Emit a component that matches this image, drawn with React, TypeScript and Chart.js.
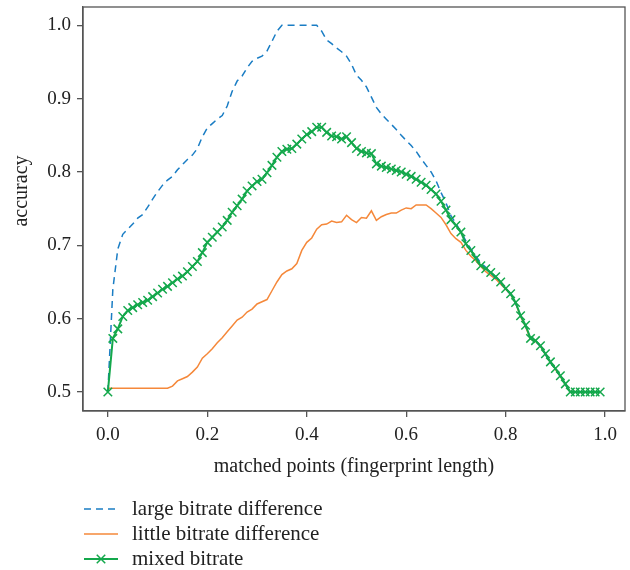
import React, { useEffect, useRef } from "react";
import { Chart, registerables } from "chart.js";

Chart.register(...registerables);

const xValues = [
  0.0, 0.01, 0.02, 0.03, 0.04, 0.05, 0.06, 0.07, 0.08, 0.09,
  0.1, 0.11, 0.12, 0.13, 0.14, 0.15, 0.16, 0.17, 0.18, 0.19,
  0.2, 0.21, 0.22, 0.23, 0.24, 0.25, 0.26, 0.27, 0.28, 0.29,
  0.3, 0.31, 0.32, 0.33, 0.34, 0.35, 0.36, 0.37, 0.38, 0.39,
  0.4, 0.41, 0.42, 0.43, 0.44, 0.45, 0.46, 0.47, 0.48, 0.49,
  0.5, 0.51, 0.52, 0.53, 0.54, 0.55, 0.56, 0.57, 0.58, 0.59,
  0.6, 0.61, 0.62, 0.63, 0.64, 0.65, 0.66, 0.67, 0.68, 0.69,
  0.7, 0.71, 0.72, 0.73, 0.74, 0.75, 0.76, 0.77, 0.78, 0.79,
  0.8, 0.81, 0.82, 0.83, 0.84, 0.85, 0.86, 0.87, 0.88, 0.89,
  0.9, 0.91, 0.92, 0.93, 0.94, 0.95, 0.96, 0.97, 0.98, 0.99,
];

const largeBitrate = [
  0.5, 0.64, 0.695, 0.715, 0.722, 0.729, 0.737, 0.742, 0.752, 0.763,
  0.773, 0.782, 0.789, 0.794, 0.803, 0.81, 0.817, 0.823, 0.832, 0.848,
  0.86, 0.866, 0.872, 0.877, 0.89, 0.91, 0.924, 0.931, 0.942, 0.951,
  0.955, 0.958, 0.965, 0.978, 0.992, 1.0, 1.0, 1.0, 1.0, 1.0,
  1.0, 1.0, 1.0, 0.992, 0.98, 0.975, 0.969, 0.964, 0.958, 0.947,
  0.932, 0.925, 0.916, 0.902, 0.888, 0.879, 0.872, 0.865, 0.858, 0.85,
  0.843, 0.836, 0.828, 0.818, 0.809, 0.8, 0.788, 0.772, 0.758, 0.74,
  0.73, 0.718, 0.706, 0.695, 0.685, 0.676, 0.67, 0.662, 0.655, 0.649,
  0.64, 0.633, 0.621, 0.604, 0.59, 0.573, 0.569, 0.562, 0.551, 0.54,
  0.531, 0.521, 0.51, 0.5, 0.5, 0.5, 0.5, 0.5, 0.5, 0.5,
];

const littleBitrate = [
  0.505, 0.505, 0.505, 0.505, 0.505, 0.505, 0.505, 0.505, 0.505, 0.505,
  0.505, 0.505, 0.505, 0.508, 0.515, 0.518, 0.521, 0.527, 0.534, 0.546,
  0.552, 0.559, 0.567, 0.574, 0.582, 0.59, 0.598, 0.602, 0.609, 0.613,
  0.62, 0.623, 0.626, 0.638, 0.65, 0.66, 0.665, 0.668, 0.675, 0.693,
  0.704, 0.71, 0.722, 0.728, 0.729, 0.733, 0.731, 0.732, 0.741, 0.735,
  0.731, 0.738, 0.737, 0.747, 0.734, 0.739, 0.742, 0.744, 0.744, 0.748,
  0.751, 0.75, 0.755, 0.755, 0.755, 0.75, 0.744, 0.738, 0.728, 0.716,
  0.709, 0.704, 0.693, 0.685, 0.679, 0.671, 0.664, 0.659, 0.654, 0.647,
  0.64, 0.633, 0.621, 0.603, 0.589, 0.572, 0.569, 0.562, 0.551, 0.54,
  0.531, 0.521, 0.51, 0.5, 0.5, 0.5, 0.5, 0.5, 0.5, 0.5,
];

const mixedBitrate = [
  0.5, 0.573, 0.586, 0.603, 0.611, 0.615, 0.619, 0.622, 0.625, 0.63,
  0.635, 0.64, 0.644, 0.649, 0.654, 0.658, 0.664, 0.671, 0.678, 0.69,
  0.704, 0.711, 0.718, 0.725, 0.734, 0.745, 0.754, 0.763, 0.774, 0.781,
  0.787, 0.79, 0.799, 0.809, 0.82, 0.828, 0.831, 0.832, 0.838, 0.845,
  0.851, 0.855, 0.861, 0.861, 0.854, 0.849, 0.848, 0.845, 0.848, 0.84,
  0.832, 0.828, 0.826, 0.825, 0.811, 0.808, 0.806, 0.804, 0.802, 0.8,
  0.797, 0.794, 0.79, 0.786, 0.782, 0.776, 0.77, 0.76, 0.748, 0.735,
  0.727, 0.718, 0.702, 0.693, 0.682, 0.672, 0.668, 0.663, 0.657, 0.65,
  0.641, 0.634, 0.622, 0.604, 0.591, 0.573, 0.57, 0.563, 0.552, 0.541,
  0.532, 0.522, 0.511, 0.5, 0.5, 0.5, 0.5, 0.5, 0.5, 0.5,
];

const seriesLabels = ["large bitrate difference", "little bitrate difference", "mixed bitrate"];
const xTitle = "matched points (fingerprint length)";
const yTitle = "accuracy";

const BLUE = "#1a7dc4";
const ORANGE = "#f5883a";
const GREEN = "#14a84c";
const FRAME = "#555555";
const TEXT = "#222222";
const FONT = "'Liberation Serif', 'Times New Roman', serif";

const framePlugin = {
  id: "frameAndLegend",
  afterDraw(chart: any) {
    const { ctx, chartArea } = chart;
    ctx.save();
    ctx.strokeStyle = FRAME;
    ctx.lineWidth = 1.3;
    ctx.strokeRect(chartArea.left, chartArea.top, chartArea.right - chartArea.left, chartArea.bottom - chartArea.top);

    // y title
    ctx.fillStyle = TEXT;
    ctx.font = `20px ${FONT}`;
    ctx.textAlign = "center";
    ctx.textBaseline = "middle";
    ctx.save();
    ctx.translate(22, 191);
    ctx.rotate(-Math.PI / 2);
    ctx.fillText(yTitle, 0, 0);
    ctx.restore();

    // legend
    const rows = [509, 534, 559];
    const colors = [BLUE, ORANGE, GREEN];
    const x0 = 84;
    const x1 = 118;
    rows.forEach((y, i) => {
      ctx.strokeStyle = colors[i];
      ctx.lineWidth = i === 2 ? 2 : 1.5;
      ctx.setLineDash(i === 0 ? [7, 5] : []);
      ctx.beginPath();
      ctx.moveTo(x0, y);
      ctx.lineTo(x1, y);
      ctx.stroke();
      ctx.setLineDash([]);
      if (i === 2) {
        const cx = (x0 + x1) / 2;
        const r = 6;
        ctx.lineWidth = 1.5;
        ctx.beginPath();
        ctx.moveTo(cx - r * 0.7071, y - r * 0.7071);
        ctx.lineTo(cx + r * 0.7071, y + r * 0.7071);
        ctx.moveTo(cx - r * 0.7071, y + r * 0.7071);
        ctx.lineTo(cx + r * 0.7071, y - r * 0.7071);
        ctx.stroke();
      }
      ctx.fillStyle = TEXT;
      ctx.font = `21px ${FONT}`;
      ctx.textAlign = "left";
      ctx.textBaseline = "middle";
      ctx.fillText(seriesLabels[i], 132, y);
    });
    ctx.restore();
  },
};

export default function App() {
  const ref = useRef<HTMLCanvasElement | null>(null);

  useEffect(() => {
    if (!ref.current) return;
    const toPoints = (ys: number[]) => xValues.map((x, i) => ({ x, y: ys[i] }));
    const chart = new Chart(ref.current, {
      type: "line",
      data: {
        datasets: [
          {
            label: seriesLabels[2],
            data: toPoints(mixedBitrate),
            borderColor: GREEN,
            backgroundColor: GREEN,
            borderWidth: 2,
            pointStyle: "crossRot",
            pointRadius: 6,
            pointBorderWidth: 1.5,
            pointBorderColor: GREEN,
            order: 0,
          },
          {
            label: seriesLabels[0],
            data: toPoints(largeBitrate),
            borderColor: BLUE,
            borderWidth: 1.5,
            borderDash: [7, 5],
            pointRadius: 0,
            order: 1,
          },
          {
            label: seriesLabels[1],
            data: toPoints(littleBitrate),
            borderColor: ORANGE,
            borderWidth: 1.5,
            pointRadius: 0,
            order: 2,
          },
        ],
      },
      options: {
        responsive: false,
        animation: false,
        devicePixelRatio: 1,
        layout: { autoPadding: false, padding: { top: 7, right: 5, bottom: 89, left: 0 } },
        plugins: { legend: { display: false }, tooltip: { enabled: false } },
        scales: {
          x: {
            type: "linear",
            min: -0.05,
            max: 1.04,
            ticks: {
              stepSize: 0.2,
              includeBounds: false,
              callback: (v: any) => Number(v).toFixed(1),
              font: { family: FONT, size: 19 },
              color: TEXT,
              padding: 7,
              maxRotation: 0,
            },
            grid: { drawOnChartArea: false, drawTicks: true, tickLength: 6, color: FRAME, lineWidth: 1.3 },
            border: { display: true, color: FRAME, width: 1.3 },
            title: { display: true, text: xTitle, font: { family: FONT, size: 20 }, color: TEXT, padding: { top: 6, bottom: 2 } },
            afterFit: (scale: any) => {
              scale.height = 70;
              scale.paddingRight = 0;
              scale.paddingLeft = 0;
            },
          },
          y: {
            type: "linear",
            min: 0.474,
            max: 1.025,
            ticks: {
              stepSize: 0.1,
              includeBounds: false,
              callback: (v: any) => Number(v).toFixed(1),
              font: { family: FONT, size: 19, lineHeight: 0.1 },
              color: TEXT,
              padding: 6,
            },
            grid: { drawOnChartArea: false, drawTicks: true, tickLength: 6, color: FRAME, lineWidth: 1.3 },
            border: { display: true, color: FRAME, width: 1.3 },
            afterFit: (scale: any) => {
              scale.width = 83;
            },
          },
        },
      },
      plugins: [framePlugin],
    });
    return () => chart.destroy();
  }, []);

  return (
    <div style={{ position: "absolute", left: 0, top: 0, width: 630, height: 570, background: "#fff" }}>
      <canvas ref={ref} width={630} height={570} style={{ width: 630, height: 570, display: "block" }} />
    </div>
  );
}
